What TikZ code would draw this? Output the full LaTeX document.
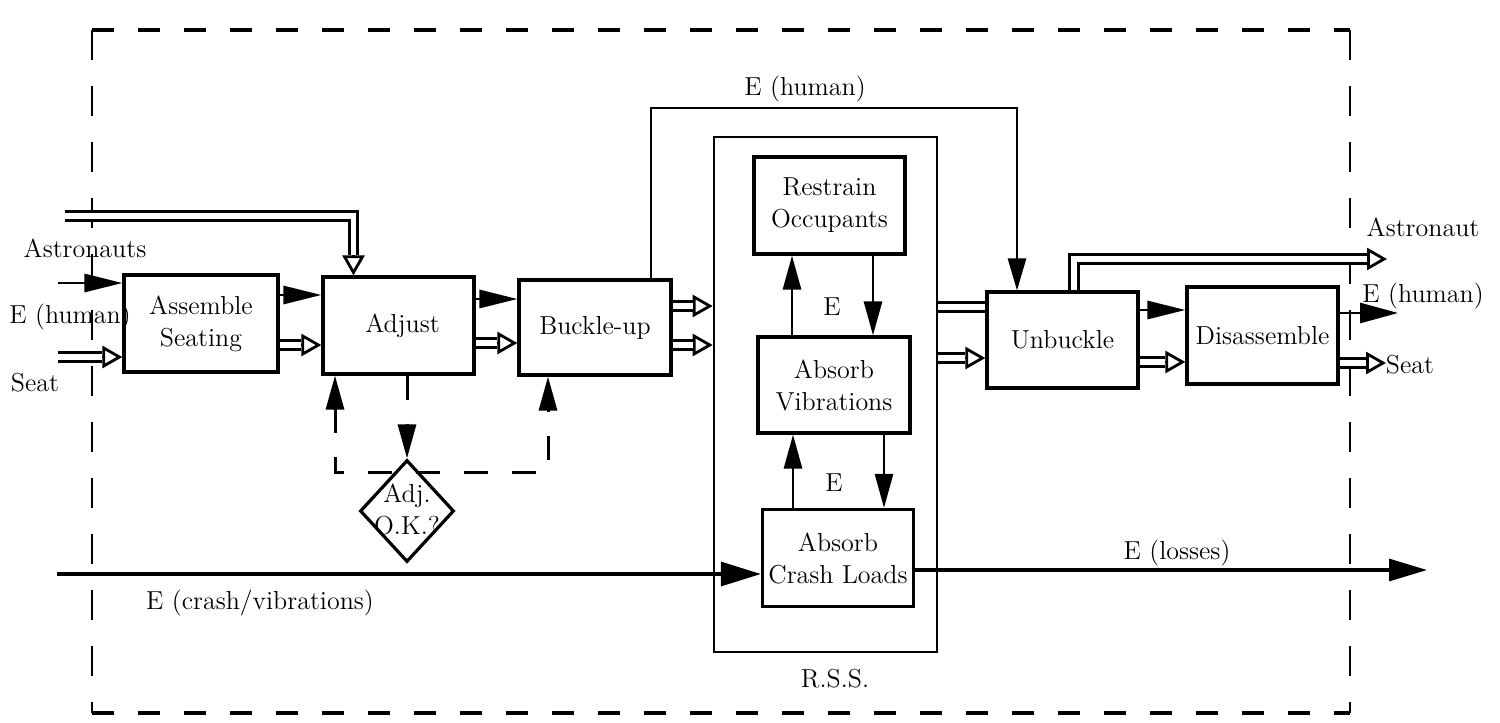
\documentclass[tikz,border=0pt]{standalone}
\usetikzlibrary{arrows.meta,shapes.geometric,calc}
\begin{document}
\begin{tikzpicture}[x=0.5pt,y=-0.5pt, font=\fontsize{13}{16}\selectfont,
  box/.style={draw, line width=1.6pt, inner sep=0pt, align=center},
  fl/.style={line width=1.4pt, -{Triangle[length=19pt,width=9pt]}},
  fv/.style={line width=1.4pt, -{Triangle[length=17pt,width=9pt]}},
  dbl/.style={draw, line width=1.5pt, double, double distance=2.6pt},
  htip/.style={line width=1.4pt, -{Triangle[open,length=10pt,width=11pt]}},
  fbk/.style={line width=1.5pt, dash pattern=on 12pt off 12pt},
  lbl/.style={inner sep=0pt}]
\newcommand\dblarrow[1]{\draw[htip] #1; \draw[dbl, shorten >=10pt] #1;}
\useasboundingbox (0,0) rectangle (1500,723);

% outer dashed frame
\draw[line width=2.2pt, dash pattern=on 11pt off 12pt] (92,30) -- (1350,30);
\draw[line width=2.2pt, dash pattern=on 11pt off 12pt] (92,713) -- (1350,713);
\draw[line width=1pt, dash pattern=on 15pt off 13pt] (92,30) -- (92,713);
\draw[line width=1pt, dash pattern=on 15pt off 13pt] (1350,30) -- (1350,713);

% boxes
\node[box, minimum width=77pt, minimum height=48.5pt] (assem) at (201,323.5) {Assemble\\Seating};
\node[box, minimum width=75.5pt, minimum height=48.5pt] (adjust) at (398.5,325.5) {\hspace*{4pt}Adjust};
\node[box, minimum width=76pt, minimum height=47.5pt] (buckle) at (595,327.5) {Buckle-up};
\node[draw, line width=1.3pt, minimum width=111.5pt, minimum height=257.5pt] (rss) at (825.5,394.5) {};
\node[box, minimum width=75.5pt, minimum height=48.5pt] (ro) at (829.5,205.5) {Restrain\\Occupants};
\node[box, minimum width=76pt, minimum height=48pt] (av) at (834,385) {Absorb\\Vibrations};
\node[box, minimum width=75.5pt, minimum height=48.5pt] (acl) at (838,558) {Absorb\\Crash Loads};
\node[box, minimum width=75.5pt, minimum height=48pt] (unb) at (1062.5,340) {Unbuckle};
\node[box, minimum width=75.5pt, minimum height=48.5pt] (dis) at (1262.5,335.5) {Disassemble};
\node[diamond, draw, line width=1.6pt, minimum width=47pt, minimum height=51pt, inner sep=0pt] (dia) at (407,511) {};
\node[lbl, align=center] (diatext) at (407,509) {Adj.\\O.K.?};

% labels
\node[lbl] (lAst) at (85,248) {Astronauts};
\node[lbl] (lEh) at (70,317) {E (human)};
\node[lbl] (lSeat) at (35,383) {Seat};
\node[lbl] (lEtop) at (805,89) {E (human)};
\node[lbl] (lE1) at (832,307) {E};
\node[lbl] (lE2) at (834,483) {E};
\node[lbl] (lAstO) at (1423,227) {Astronaut};
\node[lbl] (lEhO) at (1423,296) {E (human)};
\node[lbl] (lSeatO) at (1410,365) {Seat};
\node[lbl] (lLoss) at (1177,553) {E (losses)};
\node[lbl] (lCrash) at (260,603) {E (crash/vibrations)};
\node[lbl] (lRSS) at (835,679) {R.S.S.};

% free ends
\coordinate (tlin) at (65,216);
\coordinate (astin) at (58,283);
\coordinate (seatin) at (58,357);
\coordinate (crin) at (57,574);
\coordinate (crout) at (1427,570);
\coordinate (astout) at (1387,259);
\coordinate (ehout) at (1398,313);
\coordinate (seatout) at (1386,363);

% inputs
\dblarrow{(tlin) -- (353.5,216) -- (adjust.north -| 353.5,0)}
\draw[fl] (astin) -- (assem.west |- astin);
\dblarrow{(seatin) -- (assem.west |- seatin)}

% chain
\draw[fl] (assem.east |- 0,295) -- (adjust.west |- 0,295);
\dblarrow{(assem.east |- 0,345) -- (adjust.west |- 0,345)}
\draw[fl] (adjust.east |- 0,299) -- (buckle.west |- 0,299);
\dblarrow{(adjust.east |- 0,343) -- (buckle.west |- 0,343)}
\dblarrow{(buckle.east |- 0,306) -- (rss.west |- 0,306)}
\dblarrow{(buckle.east |- 0,345) -- (rss.west |- 0,345)}
\draw[dbl] (rss.east |- 0,307) -- (unb.west |- 0,307);
\dblarrow{(rss.east |- 0,358) -- (unb.west |- 0,358)}
\draw[fl] (unb.east |- 0,310) -- (dis.west |- 0,310);
\dblarrow{(unb.east |- 0,362) -- (dis.west |- 0,362)}

% outputs
\dblarrow{(unb.north -| 1074,0) -- (1074,259) -- (astout)}
\draw[fl, -{Triangle[length=19pt,width=10pt]}] (dis.east |- ehout) -- (ehout);
\dblarrow{(dis.east |- seatout) -- (seatout)}

% E (human) bypass
\draw[line width=1.4pt, -{Triangle[length=16pt,width=9pt]}] (buckle.north -| 651,0) -- (651,108) -- (1017,108) -- (unb.north -| 1017,0);

% inside RSS
\draw[fv] (av.north -| 792,0) -- (ro.south -| 792,0);
\draw[fv] (ro.south -| 873,0) -- (av.north -| 873,0);
\draw[fv] (acl.north -| 793,0) -- (av.south -| 793,0);
\draw[fv] (av.south -| 884,0) -- (acl.north -| 884,0);

% crash energy
\draw[line width=1.6pt, -{Triangle[length=20pt,width=12pt]}] (crin) -- (acl.west |- crin);
\draw[line width=1.6pt, -{Triangle[length=19pt,width=11pt]}] (acl.east |- crout) -- (crout);

% adjustment feedback
\draw[fbk, -{Triangle[length=17pt,width=9pt]}] (adjust.south -| 407,0) -- (dia.north);
\draw[fbk, {Triangle[length=17pt,width=9pt]}-{Triangle[length=17pt,width=9pt]}] (adjust.south -| 335,0) -- (335,472) -- (548,472) -- (buckle.south -| 548,0);
\end{tikzpicture}
\end{document}
